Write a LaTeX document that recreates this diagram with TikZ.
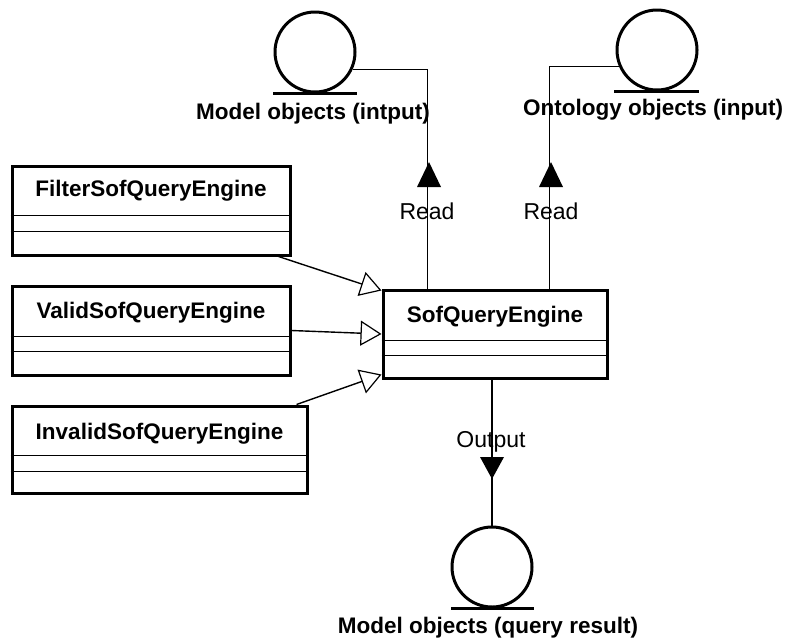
\documentclass[tikz,border=0pt]{standalone}
\usepackage{fontspec}
\setmainfont{Liberation Sans}
\usetikzlibrary{arrows.meta}
\begin{document}
\begin{tikzpicture}[x=1pt,y=-1pt,
  classbox/.style={draw,line width=3pt,inner sep=0pt},
  cname/.style={font=\bfseries\fontsize{22.5}{24}\selectfont,inner sep=0pt},
  comp/.style={line width=1.1pt},
  actor/.style={circle,draw,line width=3pt,minimum size=80pt,inner sep=0pt},
  abase/.style={line width=3pt},
  alabel/.style={font=\bfseries\fontsize{22.5}{24}\selectfont,inner sep=0pt},
  rlabel/.style={font=\fontsize{23}{25}\selectfont,inner sep=0pt},
  conn/.style={line width=1.4pt},
  gen/.style={line width=1.4pt,-{Triangle[open,length=21pt,width=25pt,line width=1.2pt]}},
  dirtri/.style={fill=black}]
\useasboundingbox (0,0) rectangle (789,641);

% class boxes
\node[classbox,minimum width=278pt,minimum height=89pt] (filter) at (151,210.5) {};
\node[cname] (filtert) at ([yshift=-26pt]filter.north) {FilterSofQueryEngine};
\draw[comp] ([yshift=-51pt]filter.north west) -- ([yshift=-51pt]filter.north east);
\draw[comp] ([yshift=-67pt]filter.north west) -- ([yshift=-67pt]filter.north east);

\node[classbox,minimum width=278pt,minimum height=89pt] (valid) at (151,330.5) {};
\node[cname] (validt) at ([yshift=-28pt]valid.north) {ValidSofQueryEngine};
\draw[comp] ([yshift=-52pt]valid.north west) -- ([yshift=-52pt]valid.north east);
\draw[comp] ([yshift=-67pt]valid.north west) -- ([yshift=-67pt]valid.north east);

\node[classbox,minimum width=295pt,minimum height=87pt] (invalid) at (159.5,449.5) {};
\node[cname] (invalidt) at ([yshift=-29pt]invalid.north) {InvalidSofQueryEngine};
\draw[comp] ([yshift=-51pt]invalid.north west) -- ([yshift=-51pt]invalid.north east);
\draw[comp] ([yshift=-67pt]invalid.north west) -- ([yshift=-67pt]invalid.north east);

\node[classbox,minimum width=224pt,minimum height=88pt] (sqe) at (495,334) {};
\node[cname] (sqet) at ([yshift=-28pt]sqe.north) {SofQueryEngine};
\draw[comp] ([yshift=-52pt]sqe.north west) -- ([yshift=-52pt]sqe.north east);
\draw[comp] ([yshift=-67pt]sqe.north west) -- ([yshift=-67pt]sqe.north east);

% actors / entities
\node[actor] (min) at (315,52) {};
\draw[abase] ([xshift=-42pt]min.south) -- ([xshift=42pt]min.south);
\node[alabel] (minl) at (313,114) {Model objects (intput)};

\node[actor] (ont) at (657,50) {};
\draw[abase] ([xshift=-43pt]ont.south) -- ([xshift=42pt]ont.south);
\node[alabel] (ontl) at (653,110) {Ontology objects (input)};

\node[actor] (res) at (492,567) {};
\draw[abase] ([xshift=-41pt]res.south) -- ([xshift=42pt]res.south);
\node[alabel] (resl) at (488,628) {Model objects (query result)};

% read connectors
\coordinate (r1) at ([xshift=46pt]sqe.north west);
\coordinate (r2) at ([xshift=168pt]sqe.north west);
\draw[conn] (min.-25) -| (r1);
\draw[conn] (ont.203) -| (r2);
\fill[dirtri] (429,162) -- (441,187) -- (417,187) -- cycle;
\fill[dirtri] (551,162) -- (563,187) -- (539,187) -- cycle;
\node[rlabel] (read1) at (427,211) {Read};
\node[rlabel] (read2) at (551,211) {Read};

% output connector
\draw[conn] (res.north |- sqe.south) -- (res.north);
\fill[dirtri] (480,457) -- (504,457) -- (492,479) -- cycle;
\node[rlabel] (outl) at (491,442) {Output};

% generalizations
\draw[gen] ([xshift=-13pt]filter.south east) -- ([yshift=-2pt]sqe.north west);
\draw[gen] (valid.east) -- (sqe.west);
\draw[gen] ([xshift=-12pt]invalid.north east) -- ([yshift=5pt]sqe.south west);
\end{tikzpicture}
\end{document}
